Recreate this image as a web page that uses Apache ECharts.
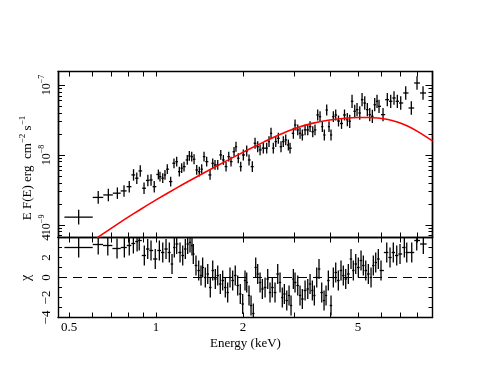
<!DOCTYPE html>
<html>
<head>
<meta charset="utf-8">
<script src="https://cdn.jsdelivr.net/npm/echarts@6/dist/echarts.min.js"></script>
<style>
  html, body { margin: 0; padding: 0; background: #fff; }
  #main { width: 491px; height: 379px; }
</style>
</head>
<body>
<div id="main"></div>
<script>
// spectrum: bin centres (keV) and E F(E) in units of 1e-9 erg cm^-2 s^-1
const FLUX_UNIT = 1e-9;
const energy = [0.540,0.631,0.684,0.735,0.775,0.808,0.836,0.858,0.882,0.909,
  0.937,0.961,0.986,1.019,1.032,1.055,1.074,1.094,1.124,1.154,
  1.179,1.204,1.227,1.250,1.283,1.304,1.329,1.354,1.383,1.412,
  1.439,1.466,1.497,1.538,1.571,1.600,1.635,1.675,1.710,1.747,
  1.785,1.818,1.862,1.891,1.926,1.964,2.005,2.060,2.098,2.154,
  2.201,2.248,2.291,2.351,2.415,2.460,2.500,2.546,2.596,2.650,
  2.707,2.757,2.811,2.870,2.909,2.987,3.027,3.093,3.150,3.208,
  3.279,3.350,3.412,3.486,3.549,3.626,3.694,3.762,3.823,3.896,
  3.968,4.032,4.107,4.186,4.280,4.384,4.489,4.591,4.680,4.767,
  4.870,4.961,5.069,5.163,5.275,5.385,5.489,5.604,5.711,5.817,
  5.910,6.102,6.314,6.487,6.660,6.839,7.026,7.311,7.645,8.000,8.392];
const flux = [1.29,2.47,2.68,2.84,3.06,3.52,5.18,4.65,5.91,3.34,
  4.32,4.39,3.52,5.26,4.90,4.65,5.18,6.25,4.16,7.60,
  8.02,5.77,6.46,6.81,8.48,9.68,9.46,8.68,6.10,5.77,
  6.25,9.46,8.02,5.18,7.60,7.20,7.20,10.0,8.48,6.81,
  9.46,8.02,11.1,13.1,8.97,6.81,10.0,11.4,8.48,6.81,
  14.7,13.1,11.8,12.5,12.5,15.5,20.4,12.5,15.5,17.3,
  13.1,15.5,16.4,13.9,12.5,20.4,26.8,22.8,20.4,19.3,
  22.8,22.8,25.4,21.5,22.8,37.3,35.3,25.4,19.3,43.9,
  25.4,19.3,35.3,37.3,30.6,28.2,37.3,31.9,30.3,58.5,
  42.1,44.4,39.8,61.7,55.3,44.4,37.7,35.7,52.3,58.5,
  49.6,37.7,61.7,58.5,65.2,58.5,55.3,76.9,46.9,106.8,76.9];
// first (widest) energy bin, keV
const firstBin = [0.482, 0.604];
// flux error half-size in dex, by energy band upper limit (keV)
const errBandEdge = [0.6, 0.7, 1.0, 2.0, 4.5, 10];
const errBandDex = [0.105, 0.09, 0.082, 0.07, 0.078, 0.095];

// model curve
const modelEnergy = [0.625,0.693,0.781,0.880,1.0,1.192,1.420,1.733,2.115,2.364,2.643,
  3.027,3.466,3.937,4.508,5.0,5.416,5.865,6.350,6.878,7.447,8.193,9.05];
const modelFlux = [0.652,0.871,1.206,1.648,2.276,3.467,5.164,8.02,12.27,15.38,19.10,
  23.91,28.27,31.4,33.55,34.35,34.35,33.78,32.15,29.3,25.7,20.7,15.85];

// residuals (chi)
const resEnergy = [0.540,0.631,0.681,0.733,0.777,0.808,0.835,0.860,0.875,0.911,
  0.936,0.961,0.994,1.027,1.055,1.083,1.112,1.136,1.157,1.179,
  1.211,1.237,1.263,1.287,1.311,1.332,1.346,1.375,1.405,1.431,
  1.450,1.481,1.510,1.541,1.571,1.604,1.635,1.669,1.701,1.737,
  1.770,1.803,1.842,1.880,1.917,1.957,1.995,2.032,2.060,2.098,
  2.132,2.171,2.213,2.248,2.291,2.333,2.384,2.435,2.480,2.526,
  2.581,2.637,2.686,2.735,2.780,2.834,2.886,2.932,2.987,3.027,
  3.093,3.150,3.208,3.279,3.350,3.412,3.475,3.530,3.598,3.664,
  3.744,3.814,3.875,3.947,4.032,4.107,4.186,4.274,4.366,4.447,
  4.533,4.628,4.728,4.816,4.909,5.012,5.121,5.216,5.317,5.428,
  5.546,5.648,5.757,5.878,6.005,6.285,6.452,6.623,6.806,6.987,
  7.231,7.371,7.670,7.982,8.412];
const resChi = [3.0,3.3,3.2,2.9,3.0,3.2,3.4,3.6,3.7,2.2,
  2.85,2.7,1.85,2.7,2.5,2.85,2.5,1.35,3.0,3.35,
  2.5,2.2,2.85,3.35,3.5,3.2,2.35,1.2,0.7,0.2,
  1.0,0.0,0.35,-1.0,0.7,-0.15,0.2,-0.65,-0.3,-1.0,
  -1.5,0.0,-0.3,0.2,-0.8,-1.65,-2.65,-0.3,-0.5,-1.8,
  -2.8,-3.6,1.0,0.35,-0.5,-1.15,-1.0,-0.15,-1.5,-1.0,
  -1.5,0.35,-0.5,-2.0,-1.65,-2.3,-1.8,-2.8,-0.15,-0.5,
  -0.8,-1.8,-2.15,-1.3,-1.15,-0.65,-1.3,-1.8,0.0,0.85,
  -1.5,-2.3,-1.8,-0.3,-2.8,0.0,0.5,-0.3,0.7,0.2,
  -0.15,0.35,1.85,0.7,1.35,1.0,1.7,1.2,0.7,0.35,
  0.0,1.2,1.5,1.85,0.7,2.5,2.0,2.5,2.2,2.35,
  3.0,2.5,2.5,3.7,3.35];

// axes
const E_MIN = 0.458, E_MAX = 9.05;
const F_MIN = 6.6e-10, F_MAX = 1.56e-7;
const CHI_MIN = -4, CHI_MAX = 4;
const xTicks = [0.5,0.6,0.7,0.8,0.9,1,2,3,4,5,6,7,8,9];
const xLabels = [0.5,1,2,5];
const yMajor = [1e-9,1e-8,1e-7];
const yMinor = [7e-10,8e-10,9e-10,2e-9,3e-9,4e-9,5e-9,6e-9,7e-9,8e-9,9e-9,
  2e-8,3e-8,4e-8,5e-8,6e-8,7e-8,8e-8,9e-8];
const chiTicks = [-4,-3,-2,-1,0,1,2,3,4];
const chiLabels = [-4,-2,0,2,4];

const FONT = 'Liberation Serif';
const lg = Math.log10;

function binEdges(e) {
  return e.map(function (v, i) {
    const lo = i === 0 ? firstBin[0] : (i === 1 ? firstBin[1] : Math.sqrt(e[i - 1] * v));
    const hi = i === 0 ? firstBin[1] :
      (i === e.length - 1 ? v * v / Math.sqrt(e[i - 1] * v) : Math.sqrt(v * e[i + 1]));
    return [lo, hi];
  });
}
function errFor(e) {
  for (let k = 0; k < errBandEdge.length; k++) if (e <= errBandEdge[k]) return errBandDex[k];
  return errBandDex[errBandDex.length - 1];
}

const topBins = binEdges(energy);
const topData = energy.map(function (e, i) {
  const lf = lg(flux[i] * FLUX_UNIT), d = errFor(e);
  return [lg(e), lf, lg(topBins[i][0]), lg(topBins[i][1]), lf - d, lf + d];
});
const resBins = binEdges(resEnergy);
const resData = resEnergy.map(function (e, i) {
  return [lg(e), resChi[i], lg(resBins[i][0]), lg(resBins[i][1]), resChi[i] - 1, resChi[i] + 1];
});
const modelData = modelEnergy.map(function (e, i) { return [lg(e), lg(modelFlux[i] * FLUX_UNIT)]; });

// error-bar cross, clipped to the panel
function errCross(params, api) {
  const cs = params.coordSys;
  const cy = function (y) { return Math.max(cs.y, Math.min(cs.y + cs.height, y)); };
  const cx = function (x) { return Math.max(cs.x, Math.min(cs.x + cs.width, x)); };
  const c = api.coord([api.value(0), api.value(1)]);
  const xl = api.coord([api.value(2), api.value(1)])[0];
  const xh = api.coord([api.value(3), api.value(1)])[0];
  const yl = api.coord([api.value(0), api.value(4)])[1];
  const yh = api.coord([api.value(0), api.value(5)])[1];
  const style = { stroke: '#000', lineWidth: 1.3 };
  const kids = [{ type: 'line', shape: { x1: c[0], y1: cy(yl), x2: c[0], y2: cy(yh) }, style: style }];
  if (c[1] >= cs.y && c[1] <= cs.y + cs.height) {
    kids.push({ type: 'line', shape: { x1: cx(xl), y1: c[1], x2: cx(xh), y2: c[1] }, style: style });
  }
  return { type: 'group', children: kids };
}

const frame = { show: true, onZero: false, lineStyle: { color: '#000', width: 1.4 } };
function xAxisDef(grid, pos, withLabels) {
  return {
    type: 'value', gridIndex: grid, position: pos,
    min: lg(E_MIN), max: lg(E_MAX),
    axisLine: frame,
    axisTick: { show: true, inside: true, length: 5, lineStyle: { color: '#000', width: 1 },
      customValues: xTicks.map(lg) },
    axisLabel: withLabels ? {
      show: true, customValues: xLabels.map(lg), margin: 4,
      fontFamily: FONT, fontSize: 13, color: '#000',
      formatter: function (v) { return String(Math.round(Math.pow(10, v) * 10) / 10); }
    } : { show: false },
    splitLine: { show: false }
  };
}
function yLogDef(pos, ticks, len, withLabels) {
  return {
    type: 'value', gridIndex: 0, position: pos,
    min: lg(F_MIN), max: lg(F_MAX),
    axisLine: frame,
    axisTick: { show: true, inside: true, length: len, lineStyle: { color: '#000', width: 1 },
      customValues: ticks.map(lg) },
    axisLabel: withLabels ? {
      show: true, customValues: yMajor.map(lg), rotate: 90, margin: 5, color: '#000',
      formatter: function (v) { return '{b|10}{s|−' + Math.round(-v) + '}'; },
      rich: {
        b: { fontFamily: FONT, fontSize: 12, color: '#000', verticalAlign: 'bottom', lineHeight: 15 },
        s: { fontFamily: FONT, fontSize: 8, color: '#000', verticalAlign: 'top', lineHeight: 15 }
      }
    } : { show: false },
    splitLine: { show: false }
  };
}
function yChiDef(pos, withLabels) {
  return {
    type: 'value', gridIndex: 1, position: pos,
    min: CHI_MIN, max: CHI_MAX,
    axisLine: frame,
    axisTick: { show: true, inside: true, length: 4, lineStyle: { color: '#000', width: 1 },
      customValues: chiTicks },
    axisLabel: withLabels ? {
      show: true, customValues: chiLabels, rotate: 90, margin: 5,
      fontFamily: FONT, fontSize: 13, color: '#000',
      formatter: function (v) { return v < 0 ? '−' + (-v) : String(v); }
    } : { show: false },
    splitLine: { show: false }
  };
}

const chart = echarts.init(document.getElementById('main'));
chart.setOption({
  animation: false,
  backgroundColor: '#fff',
  grid: [
    { left: 58, top: 71.5, width: 374.5, height: 166 },
    { left: 58, top: 237.5, width: 374.5, height: 80 }
  ],
  xAxis: [
    xAxisDef(0, 'bottom', false),
    xAxisDef(0, 'top', false),
    xAxisDef(1, 'bottom', true),
    xAxisDef(1, 'top', false)
  ],
  yAxis: [
    yLogDef('left', yMajor, 7, true),
    yLogDef('left', yMinor, 4, false),
    yLogDef('right', yMajor, 7, false),
    yLogDef('right', yMinor, 4, false),
    yChiDef('left', true),
    yChiDef('right', false)
  ],
  graphic: [
    { type: 'text', x: 26, y: 168, rotation: Math.PI / 2,
      style: { text: '{t|E F(E) erg  cm}{s|−2}{t| s}{s|−1}', align: 'center', verticalAlign: 'middle',
        rich: {
          t: { fontFamily: FONT, fontSize: 13, fill: '#000', verticalAlign: 'bottom', lineHeight: 16 },
          s: { fontFamily: FONT, fontSize: 9, fill: '#000', verticalAlign: 'top', lineHeight: 16 }
        } } },
    { type: 'text', x: 26, y: 278, rotation: Math.PI / 2,
      style: { text: 'χ', align: 'center', verticalAlign: 'middle', fontFamily: FONT, fontSize: 14, fill: '#000' } },
    { type: 'text', x: 245.5, y: 344,
      style: { text: 'Energy (keV)', align: 'center', verticalAlign: 'middle', fontFamily: FONT, fontSize: 13, fill: '#000' } }
  ],
  series: [
    { type: 'custom', xAxisIndex: 0, yAxisIndex: 0, renderItem: errCross, data: topData,
      encode: { x: 0, y: 1 }, silent: true, z: 2 },
    { type: 'line', xAxisIndex: 0, yAxisIndex: 0, data: modelData, smooth: 0.25,
      showSymbol: false, clip: true, silent: true, z: 3,
      lineStyle: { color: '#ff0000', width: 1.6 } },
    { type: 'custom', xAxisIndex: 2, yAxisIndex: 4, renderItem: errCross, data: resData,
      encode: { x: 0, y: 1 }, silent: true, z: 2 },
    { type: 'line', xAxisIndex: 2, yAxisIndex: 4, data: [[lg(E_MIN), 0], [lg(E_MAX), 0]],
      showSymbol: false, silent: true, z: 1,
      lineStyle: { color: '#000', width: 1, type: [9, 6] } }
  ]
});
</script>
</body>
</html>
